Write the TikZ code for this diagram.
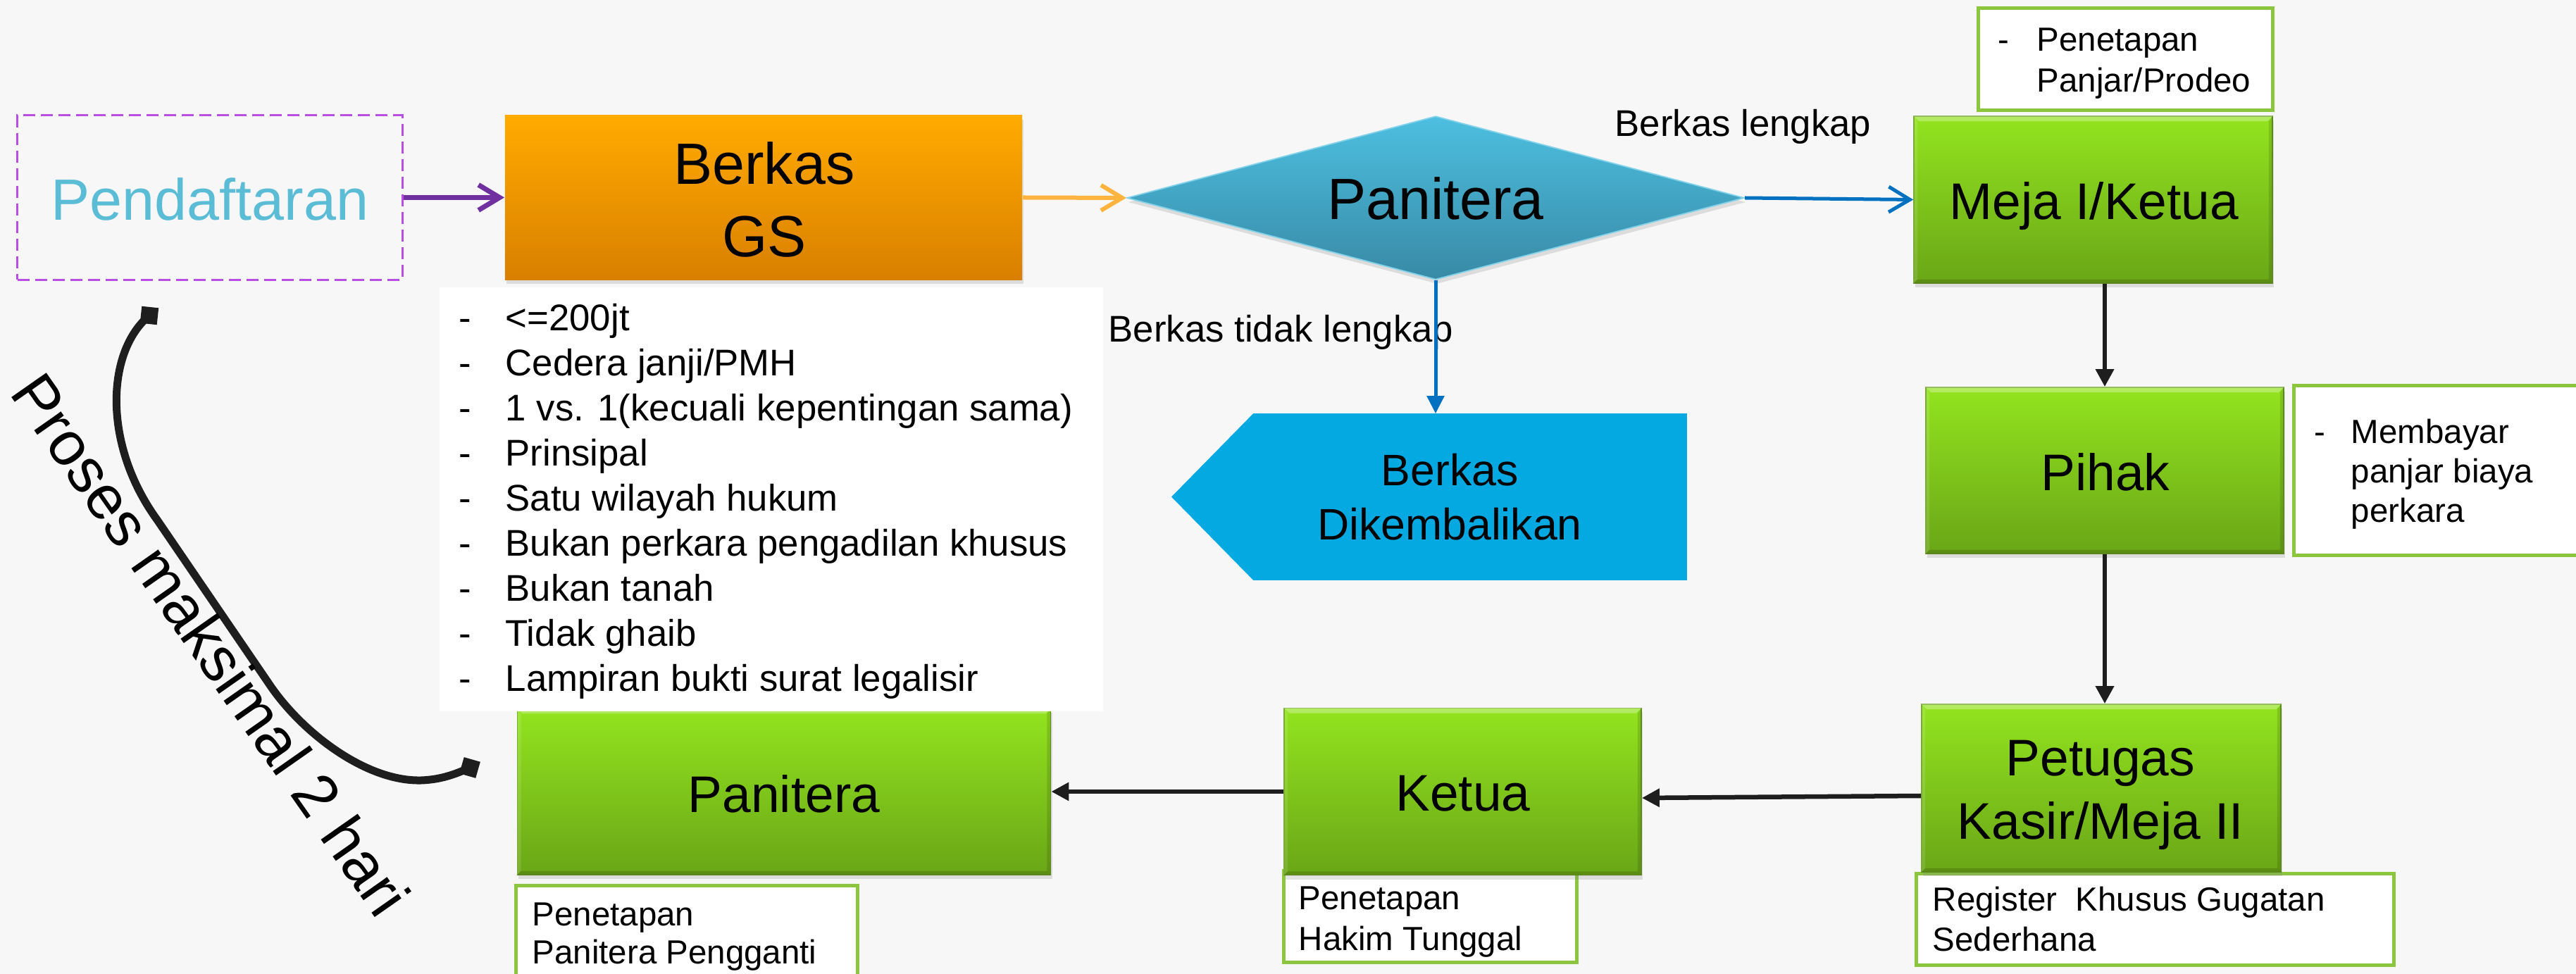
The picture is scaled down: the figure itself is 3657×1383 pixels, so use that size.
\documentclass[tikz,border=0pt]{standalone}
\usepackage{fontspec}
\setmainfont{Liberation Sans}
\usetikzlibrary{arrows.meta,shapes.geometric,shadows}
\definecolor{bgc}{HTML}{F7F7F7}
\definecolor{pendb}{HTML}{B94FE2}
\definecolor{pendt}{HTML}{5BBCD6}
\definecolor{purp}{HTML}{7030A0}
\definecolor{orT}{HTML}{FFAB00}
\definecolor{orB}{HTML}{D97F00}
\definecolor{orA}{HTML}{FFB43F}
\definecolor{diaT}{HTML}{4DBFE0}
\definecolor{diaB}{HTML}{388AA6}
\definecolor{blu}{HTML}{0070C0}
\definecolor{kemc}{HTML}{03A9E0}
\definecolor{grT}{HTML}{93E41F}
\definecolor{grB}{HTML}{6AA617}
\definecolor{grE}{HTML}{6A9E20}
\definecolor{grL}{HTML}{8CC63E}
\definecolor{ink}{HTML}{1E1E1E}
\newcommand\setfs[1]{\fontsize{#1}{1.2\dimexpr#1\relax}\selectfont}
\newcommand\bevelon[1]{%
 \fill[white,opacity=.3] (#1.north west) -- (#1.north east) -- ([xshift=-0.08cm,yshift=-0.08cm]#1.north east) -- ([xshift=0.08cm,yshift=-0.08cm]#1.north west) -- cycle;
 \fill[white,opacity=.12] (#1.north west) -- (#1.south west) -- ([xshift=0.06cm,yshift=0.06cm]#1.south west) -- ([xshift=0.06cm,yshift=-0.08cm]#1.north west) -- cycle;
 \fill[black,opacity=.12] (#1.north east) -- (#1.south east) -- ([xshift=-0.06cm,yshift=0.06cm]#1.south east) -- ([xshift=-0.06cm,yshift=-0.08cm]#1.north east) -- cycle;
 \fill[black,opacity=.15] (#1.south west) -- (#1.south east) -- ([xshift=-0.06cm,yshift=0.06cm]#1.south east) -- ([xshift=0.06cm,yshift=0.06cm]#1.south west) -- cycle;
}
\tikzset{
 shd/.style={drop shadow={opacity=0.22, shadow xshift=0.02cm, shadow yshift=-0.06cm}},
 greenbox/.style={rectangle, top color=grT, bottom color=grB, draw=grE, line width=0.4pt, shd, inner sep=0},
 notebox/.style={rectangle, fill=white, draw=grL, line width=0.05cm, inner sep=0},
 txt/.style={anchor=base, inner sep=0},
 txtl/.style={anchor=base west, inner sep=0},
 fbig/.style={font=\setfs{23.5pt}},
 fmid/.style={font=\setfs{20.8pt}},
 fkem/.style={font=\setfs{17.8pt}},
 flist/.style={font=\setfs{15pt}},
 fsmall/.style={font=\setfs{13.5pt}},
 barb/.style={-{Straight Barb[length=0.3cm,width=0.36cm]}},
 blk/.style={draw=ink, line width=0.065cm, -{Triangle[length=0.25cm,width=0.25cm]}},
}
\begin{document}
\begin{tikzpicture}[x=0.01cm,y=-0.01cm]
\useasboundingbox (0,0) rectangle (3657,1383);
\fill[bgc] (0,0) rectangle (3657,1383);

% Pendaftaran
\node[rectangle, draw=pendb, dash pattern=on 0.17cm off 0.08cm, line width=0.03cm, minimum width=5.46cm, minimum height=2.33cm] (pend) at (298,280.5) {};
\node[txt, fbig, text=pendt] (pendtx) at (298,313) {Pendaftaran};

% Berkas GS
\node[rectangle, top color=orT, bottom color=orB, shd, minimum width=7.34cm, minimum height=2.33cm, inner sep=0] (gs) at (1084,280.5) {};
\node[txt, fbig] (gs1) at (1085,262) {Berkas};
\node[txt, fbig] (gs2) at (1085,365) {GS};

% Panitera diamond
\node[diamond, top color=diaT, bottom color=diaB, draw=diaT!70!white, line width=0.5pt, minimum width=8.76cm, minimum height=2.32cm, inner sep=0, shd] (pan) at (2038,281) {};
\node[txt, fbig] (pantx) at (2038,312) {Panitera};

% Berkas Dikembalikan
\node[rectangle, minimum width=6.14cm, minimum height=2.35cm, inner sep=0] (kem) at (2087,705.5) {};
\fill[kemc] (kem.north east) -- (kem.north west) -- (1663,705.5) -- (kem.south west) -- (kem.south east) -- cycle;
\node[txt, fkem] (kem1) at (2058,690) {Berkas};
\node[txt, fkem] (kem2) at (2058,767) {Dikembalikan};

% note boxes (under main boxes)
\node[notebox, minimum width=4.174cm, minimum height=1.45cm] (nPanjar) at (3017.3,84.2) {};
\node[txtl, fsmall] (nPanjarD) at (2836,73) {-};
\node[txtl, fsmall] (nPanjar1) at (2891,73) {Penetapan};
\node[txtl, fsmall] (nPanjar2) at (2891,131) {Panjar/Prodeo};

\node[notebox, minimum width=4.23cm, minimum height=2.40cm] (nBayar) at (3468.5,668) {};
\node[txtl, fsmall] (nBayarD) at (3284.5,629.5) {-};
\node[txtl, fsmall] (nBayar1) at (3337,629.5) {Membayar};
\node[txtl, fsmall] (nBayar2) at (3337,685.8) {panjar biaya};
\node[txtl, fsmall] (nBayar3) at (3337,742) {perkara};

\node[notebox, minimum width=6.774cm, minimum height=1.295cm] (nReg) at (3059.3,1305.25) {};
\node[txtl, fsmall] (nReg1) at (2743,1293) {Register\ \ Khusus Gugatan};
\node[txtl, fsmall] (nReg2) at (2743,1350) {Sederhana};

\node[notebox, minimum width=4.155cm, minimum height=1.30cm] (nHakim) at (2030.75,1301.7) {};
\node[txtl, fsmall] (nHakim1) at (1843,1291.7) {Penetapan};
\node[txtl, fsmall] (nHakim2) at (1843,1349) {Hakim Tunggal};

\node[notebox, minimum width=4.84cm, minimum height=1.423cm] (nPP) at (975,1328.85) {};
\node[txtl, fsmall] (nPP1) at (755,1314) {Penetapan};
\node[txtl, fsmall] (nPP2) at (755,1368) {Panitera Pengganti};

% green boxes
\node[greenbox, minimum width=5.09cm, minimum height=2.37cm] (meja) at (2971.5,283.5) {};
\bevelon{meja}
\node[txt, fmid] (mejatx) at (2973,312) {Meja I/Ketua};

\node[greenbox, minimum width=5.08cm, minimum height=2.36cm] (pihak) at (2988,668) {};
\bevelon{pihak}
\node[txt, fmid] (pihaktx) at (2989,697) {Pihak};

\node[greenbox, minimum width=5.10cm, minimum height=2.38cm] (pet) at (2983,1119) {};
\bevelon{pet}
\node[txt, fmid] (pet1) at (2982,1101) {Petugas};
\node[txt, fmid] (pet2) at (2982,1191.5) {Kasir/Meja II};

\node[greenbox, minimum width=5.07cm, minimum height=2.37cm] (ket) at (2076.5,1124) {};
\bevelon{ket}
\node[txt, fmid] (kettx) at (2077,1152) {Ketua};

\node[greenbox, minimum width=7.57cm, minimum height=2.36cm] (pan2) at (1113,1124) {};
\bevelon{pan2}
\node[txt, fmid] (pan2tx) at (1113,1153) {Panitera};

% criteria list
\node[rectangle, fill=white, minimum width=9.42cm, minimum height=6.02cm, inner sep=0] (crit) at (1095,709) {};
\foreach \t [count=\i from 0] in {<=200jt, Cedera janji/PMH, 1 vs. 1(kecuali kepentingan sama), Prinsipal, Satu wilayah hukum, Bukan perkara pengadilan khusus, Bukan tanah, Tidak ghaib, Lampiran bukti surat legalisir}{
 \node[txtl, flist] (critd\i) at (651,470+64*\i) {-};
 \node[txtl, flist] (critt\i) at (717,470+64*\i) {\t};
}

% labels
\node[txtl, flist] (lengkap) at (2292,193.6) {Berkas lengkap};
\node[txtl, flist] (tidak) at (1573,486) {Berkas tidak lengkap};

% connectors
\draw[purp, line width=0.07cm, barb] (pend.east) -- (gs.west);
\draw[orA, line width=0.06cm, barb] (gs.east) -- (pan.west);
\draw[blu, line width=0.05cm, barb] (pan.east) -- (meja.west);
\draw[blu, line width=0.05cm, -{Triangle[length=0.25cm,width=0.24cm]}] (pan.south) -- (pan.south |- kem.north);
\draw[blk] (pihak.north |- meja.south) -- (pihak.north);
\draw[blk] (pihak.south) -- (pihak.south |- pet.north);
\draw[blk] (pet.west |- 0,1130) -- (ket.east |- 0,1133);
\draw[blk] (ket.west) -- (pan2.east);

% curved bracket
\node[rectangle, fill=ink, minimum size=0.24cm, inner sep=0, rotate=-6] (sqTop) at (212,448) {};
\node[rectangle, fill=ink, minimum size=0.24cm, inner sep=0, rotate=-16] (sqBot) at (667,1090) {};
\draw[ink, line width=0.11cm] (sqTop.center) .. controls (150,500) and (146,632) .. (223,738) -- (384,974) .. controls (430,1041) and (520,1110) .. (598,1108) .. controls (625,1107) and (645,1100) .. (sqBot.center);
\node[rotate=-55, font=\setfs{25pt}, inner sep=0] (proses) at (300,915) {Proses maksimal 2 hari};
\end{tikzpicture}
\end{document}
